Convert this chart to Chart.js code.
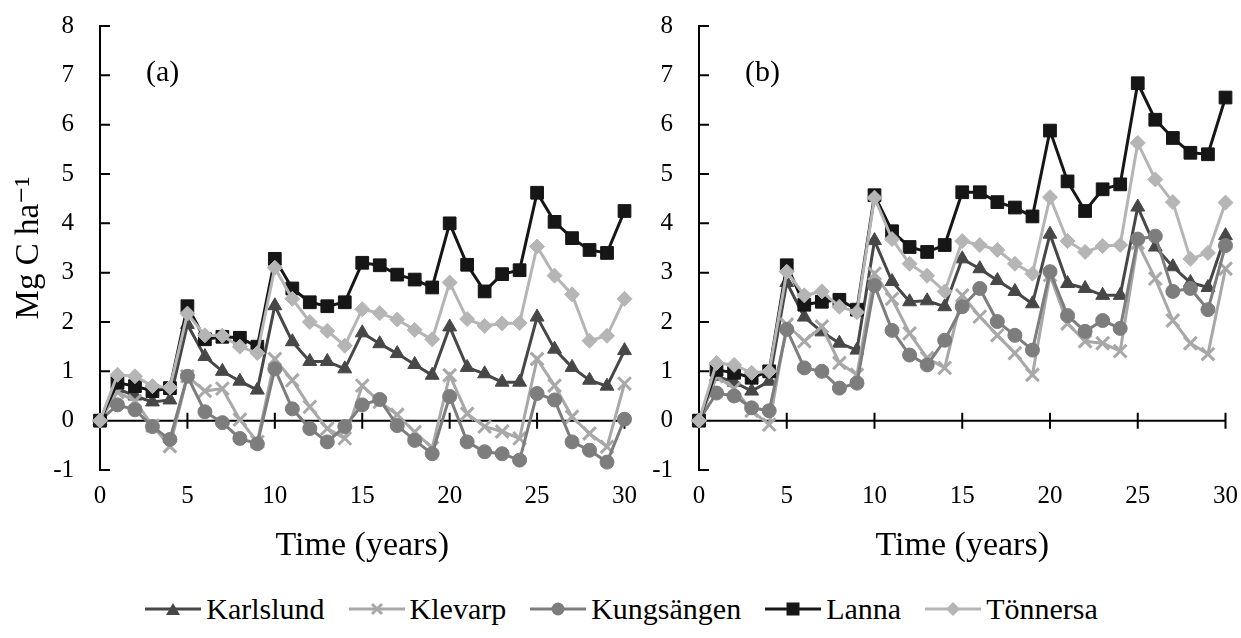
<!DOCTYPE html>
<html>
<head>
<meta charset="utf-8">
<script src="https://cdn.jsdelivr.net/npm/chart.js@4.4.1/dist/chart.umd.min.js"></script>
<style>
  html, body { margin: 0; padding: 0; background: #fff; }
  #wrap { position: relative; width: 1241px; height: 638px; background: #fff; overflow: hidden; font-family: "Liberation Serif", "Tinos", "Times New Roman", "Nimbus Roman", "DejaVu Serif", serif; }
  .panel { position: absolute; top: -7px; height: 577px; }
  .tag { position: absolute; top: 54px; font-size: 30px; color: #000; }
  #legend { position: absolute; left: 0; top: 592px; width: 1241px; display: flex; justify-content: center; align-items: center; font-size: 30px; color: #000; }
  #legend .item { display: flex; align-items: center; margin: 0 11px; }
  #legend svg { margin-right: 3px; }
</style>
</head>
<body>
<div id="wrap">
  <div class="panel" style="left:0;width:640px"><canvas id="chartA"></canvas></div>
  <div class="panel" style="left:600px;width:641px"><canvas id="chartB"></canvas></div>
  <div class="tag" style="left:146px">(a)</div>
  <div class="tag" style="left:745px">(b)</div>
  <div id="legend"></div>
</div>
<script>
// ======= Data =======
const years = [];
for (let i = 0; i <= 30; i++) years.push(i);

const sites = ["Karlslund", "Klevarp", "Kungsängen", "Lanna", "Tönnersa"];

// panel (a)
const karlA  = [0,0.65,0.5,0.38,0.42,1.95,1.3,1.0,0.8,0.62,2.33,1.6,1.2,1.2,1.05,1.78,1.56,1.36,1.14,0.92,1.9,1.08,0.95,0.78,0.78,2.1,1.45,1.08,0.82,0.7,1.42];
const klevA  = [0,0.58,0.4,-0.1,-0.52,0.9,0.6,0.65,0.02,-0.43,1.25,0.82,0.28,-0.16,-0.36,0.71,0.38,0.12,-0.23,-0.55,0.92,0.14,-0.12,-0.22,-0.36,1.25,0.71,0.08,-0.26,-0.53,0.75];
const kungA  = [0,0.32,0.22,-0.12,-0.38,0.9,0.18,-0.04,-0.36,-0.47,1.05,0.24,-0.16,-0.43,-0.12,0.32,0.43,-0.1,-0.4,-0.67,0.49,-0.43,-0.63,-0.67,-0.8,0.55,0.42,-0.43,-0.6,-0.84,0.03];
const lannaA = [0,0.77,0.7,0.6,0.66,2.32,1.65,1.7,1.68,1.5,3.28,2.68,2.4,2.32,2.4,3.2,3.15,2.96,2.86,2.7,4.0,3.16,2.62,2.97,3.05,4.62,4.03,3.7,3.46,3.4,4.25];
const tonnA  = [0,0.93,0.9,0.7,0.67,2.17,1.73,1.72,1.5,1.37,3.1,2.47,2.0,1.82,1.52,2.26,2.18,2.05,1.84,1.65,2.8,2.06,1.92,1.97,1.98,3.53,2.94,2.56,1.62,1.72,2.47];

// panel (b)
const karlB  = [0,0.9,0.78,0.6,0.8,2.8,2.1,1.8,1.57,1.43,3.65,2.82,2.41,2.43,2.31,3.28,3.08,2.84,2.62,2.37,3.78,2.78,2.68,2.54,2.54,4.33,3.52,3.12,2.8,2.7,3.75];
const klevB  = [0,0.9,0.65,0.2,-0.08,1.95,1.61,1.91,1.17,0.93,2.98,2.47,1.77,1.27,1.07,2.54,2.11,1.73,1.37,0.93,2.95,1.97,1.61,1.57,1.41,3.6,2.88,2.03,1.57,1.35,3.08];
const kungB  = [0,0.56,0.5,0.26,0.2,1.85,1.07,1.0,0.66,0.76,2.74,1.83,1.33,1.13,1.63,2.31,2.68,2.01,1.73,1.43,3.02,2.13,1.81,2.03,1.87,3.68,3.74,2.62,2.68,2.25,3.55];
const lannaB = [0,1.03,0.97,0.87,1.0,3.15,2.35,2.41,2.45,2.25,4.57,3.84,3.52,3.42,3.56,4.63,4.63,4.43,4.32,4.14,5.88,4.85,4.25,4.69,4.79,6.84,6.1,5.73,5.43,5.4,6.55];
const tonnB  = [0,1.17,1.13,0.97,1.0,3.02,2.54,2.62,2.31,2.2,4.52,3.68,3.18,2.94,2.62,3.64,3.56,3.46,3.18,2.98,4.53,3.64,3.42,3.54,3.56,5.63,4.89,4.43,3.28,3.4,4.42];

const xTicks = [0, 5, 10, 15, 20, 25, 30];
const yTicks = [-1, 0, 1, 2, 3, 4, 5, 6, 7, 8];

const FONT = "'Liberation Serif', Tinos, 'Times New Roman', 'Nimbus Roman', 'DejaVu Serif', serif";

// ======= Styles =======
const styles = [
  {color: "#474747", point: "triangle", r: 8,  bw: 1},
  {color: "#a8a8a8", point: "crossRot", r: 9,  bw: 3},
  {color: "#7d7d7d", point: "circle",   r: 7,  bw: 1},
  {color: "#161616", point: "rect",     r: 9,  bw: 1},
  {color: "#b5b5b5", point: "rectRot",  r: 7.5, bw: 1}
];

function makeSets(series) {
  return series.map((vals, i) => ({
    label: sites[i],
    data: vals.map((v, j) => ({x: years[j], y: v})),
    borderColor: styles[i].color,
    backgroundColor: styles[i].color,
    borderWidth: 3,
    pointStyle: styles[i].point,
    pointRadius: styles[i].r,
    pointBorderWidth: styles[i].bw,
    pointHoverRadius: styles[i].r,
    tension: 0,
    clip: false,
    order: 5 - i
  }));
}

// zero line with crossing ticks + inward y ticks
const axisMarks = {
  id: "axisMarks",
  beforeDatasetsDraw(chart) {
    const {ctx, chartArea} = chart;
    const xs = chart.scales.x, ys = chart.scales.y;
    const y0 = ys.getPixelForValue(0);
    ctx.save();
    ctx.strokeStyle = "#000";
    ctx.lineWidth = 2;
    ctx.beginPath();
    ctx.moveTo(chartArea.left, y0);
    ctx.lineTo(chartArea.right, y0);
    xTicks.forEach(t => {
      const px = xs.getPixelForValue(t);
      ctx.moveTo(px, y0 - 8);
      ctx.lineTo(px, y0 + 8);
    });
    yTicks.forEach(t => {
      const py = ys.getPixelForValue(t);
      ctx.moveTo(chartArea.left, py);
      ctx.lineTo(chartArea.left + 10, py);
    });
    ctx.stroke();
    ctx.restore();
  }
};

function makeChart(id, series, withTitle, yWidth, padRight) {
  return new Chart(document.getElementById(id), {
    type: "line",
    data: {datasets: makeSets(series)},
    plugins: [axisMarks],
    options: {
      responsive: true,
      maintainAspectRatio: false,
      animation: false,
      layout: {padding: {top: 13, right: padRight, bottom: 0, left: 0}},
      plugins: {legend: {display: false}, tooltip: {enabled: false}},
      scales: {
        x: {
          type: "linear", min: 0, max: 30,
          border: {display: false},
          grid: {display: false},
          afterBuildTicks: s => { s.ticks = xTicks.map(v => ({value: v})); },
          ticks: {color: "#000", font: {family: FONT, size: 25}, padding: 3, maxRotation: 0},
          title: {display: true, text: "Time (years)", color: "#000", font: {family: FONT, size: 34}, padding: {top: 0}},
          afterFit: s => { s.height = 100; }
        },
        y: {
          min: -1, max: 8,
          border: {display: true, color: "#000", width: 2},
          grid: {display: false},
          afterBuildTicks: s => { s.ticks = yTicks.map(v => ({value: v})); },
          ticks: {color: "#000", font: {family: FONT, size: 25}, padding: 18},
          title: {display: withTitle, text: "Mg C ha⁻¹", color: "#000", font: {family: FONT, size: 33}, padding: {top: 10, bottom: 4}},
          afterFit: s => { s.width = yWidth; }
        }
      }
    }
  });
}

makeChart("chartA", [karlA, klevA, kungA, lannaA, tonnA], true, 100, 6);
makeChart("chartB", [karlB, klevB, kungB, lannaB, tonnB], false, 99, 0);

// ======= Legend =======
function markerSvg(i) {
  const c = styles[i].color;
  let m = "";
  if (i === 0) m = `<polygon points="30,7 37,19 23,19" fill="${c}"/>`;
  if (i === 1) m = `<path d="M25,8 L35,18 M35,8 L25,18" stroke="${c}" stroke-width="3"/>`;
  if (i === 2) m = `<circle cx="30" cy="13" r="6.5" fill="${c}"/>`;
  if (i === 3) m = `<rect x="23.5" y="6.5" width="13" height="13" fill="${c}"/>`;
  if (i === 4) m = `<polygon points="30,6 37,13 30,20 23,13" fill="${c}"/>`;
  return `<svg width="60" height="26"><line x1="2" y1="13" x2="58" y2="13" stroke="${c}" stroke-width="3"/>${m}</svg>`;
}
const legend = document.getElementById("legend");
sites.forEach((s, i) => {
  const item = document.createElement("div");
  item.className = "item";
  item.innerHTML = markerSvg(i) + `<span>${s}</span>`;
  legend.appendChild(item);
});
</script>
</body>
</html>
